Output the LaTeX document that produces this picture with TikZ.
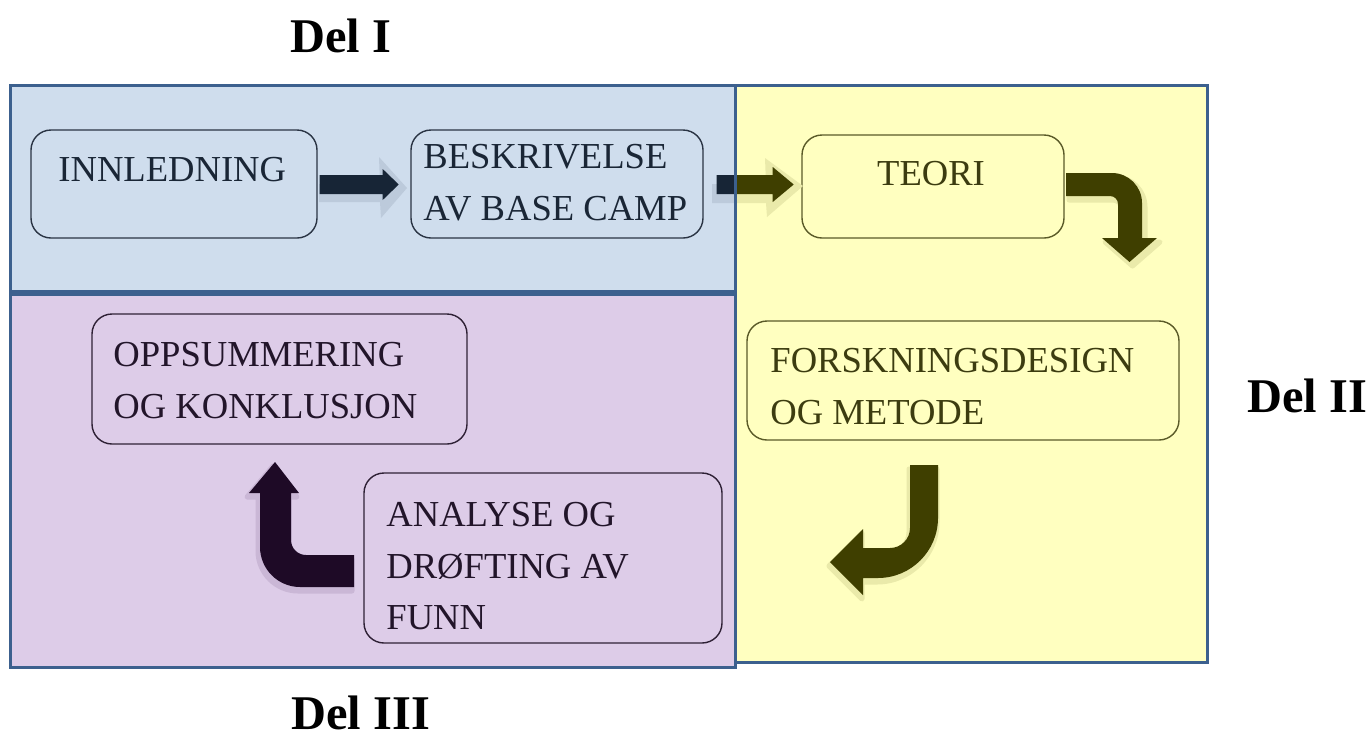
\documentclass[tikz,border=0pt]{standalone}
\usepackage{fontspec}
\setmainfont{Liberation Serif}
\usetikzlibrary{fit,calc}
\definecolor{blufill}{RGB}{207,221,237}
\definecolor{purfill}{RGB}{221,204,232}
\definecolor{yelfill}{RGB}{255,255,192}
\definecolor{framecol}{RGB}{60,96,142}
\definecolor{bluarrow}{RGB}{23,37,54}
\definecolor{blushadow}{RGB}{188,202,219}
\definecolor{olvarrow}{RGB}{63,63,0}
\definecolor{olvshadow}{RGB}{234,234,170}
\definecolor{purarrow}{RGB}{30,10,38}
\definecolor{purshadow}{RGB}{202,183,214}
\definecolor{blutext}{RGB}{26,38,54}
\definecolor{yeltext}{RGB}{60,60,16}
\definecolor{purtext}{RGB}{34,21,42}
\definecolor{bluedge}{RGB}{42,52,68}
\definecolor{yeledge}{RGB}{90,90,40}
\definecolor{puredge}{RGB}{46,32,53}
\begin{document}
\begin{tikzpicture}[x=0.5pt,y=-0.5pt,
  stepbox/.style={draw, rounded corners=10pt, line width=0.7pt, inner sep=0pt},
  boxtext/.style={inner sep=0pt, align=left, font=\fontsize{18.3}{25.7}\selectfont},
  partlabel/.style={inner sep=0pt, anchor=base west, font=\fontsize{24.2}{28}\selectfont\bfseries},
  frame/.style={draw=framecol, line width=1.5pt},
  halo/.style={line width=2.5pt, line join=round},
]
\useasboundingbox (0,0) rectangle (1370,740);

% region fills
\fill[yelfill] (735,85) rectangle (1207,662);
\fill[blufill] (10,85) rectangle (735,293);
\fill[purfill] (10,293) rectangle (735,667);

% boxes
\node[stepbox, draw=bluedge, fit={(31,130) (317,238)}] (innl) {};
\node[stepbox, draw=bluedge, fit={(411,130) (703,238)}] (besk) {};
\node[stepbox, draw=yeledge, fit={(802,135) (1064,238)}] (teori) {};
\node[stepbox, draw=yeledge, fit={(747,321) (1179,440)}] (forsk) {};
\node[stepbox, draw=puredge, fit={(92,314) (467,444)}] (opps) {};
\node[stepbox, draw=puredge, fit={(364,473) (722,643)}] (anal) {};

% shadows of straight arrows
\fill[blushadow] (319,184) -- (380,184) -- (379,157) -- (407,188) -- (381,218) -- (380,202) -- (319,202) -- cycle;
\begin{scope}
  \clip (0,100) rectangle (735,280);
  \fill[blushadow] (712,184) -- (766,184) -- (765,158) -- (803,186) -- (767,217) -- (766,203) -- (712,203) -- cycle;
\end{scope}
\begin{scope}
  \clip (735,100) rectangle (1200,280);
  \fill[olvshadow] (712,184) -- (766,184) -- (765,158) -- (803,186) -- (767,217) -- (766,203) -- (712,203) -- cycle;
\end{scope}

% arrow 1: innl -> besk
\fill[bluarrow] ($(innl.east)+(2,-9)$) -- ++(63,0) -- ++(0,-6) -- ++(16,15.5) -- ++(-16,15.5) -- ++(0,-6) -- ++(-63,0) -- cycle;

% arrow 2: besk -> teori
\begin{scope}
  \clip (0,100) rectangle (735,280);
  \fill[bluarrow] ($(besk.east)+(13,-9)$) -- ++(56,0) -- ++(0,-8) -- ++(21,17.5) -- ++(-21,17.5) -- ++(0,-8) -- ++(-56,0) -- cycle;
\end{scope}
\begin{scope}
  \clip (735,100) rectangle (1200,280);
  \fill[olvarrow] ($(besk.east)+(13,-9)$) -- ++(56,0) -- ++(0,-8) -- ++(21,17.5) -- ++(-21,17.5) -- ++(0,-8) -- ++(-56,0) -- cycle;
\end{scope}

% arrow 3: teori -> forsk
\begin{scope}[shift={(3,4)}]
\filldraw[olvshadow, halo] (1066,173) -- (1112,173) .. controls (1128.5,173) and (1142,186.5) .. (1142,203) -- (1142,238) -- (1157,238) -- (1129.5,262) -- (1102,238) -- (1118,238) -- (1118,204) .. controls (1118,199.6) and (1114.4,196) .. (1110,196) -- (1066,196) -- cycle;
\end{scope}
\fill[olvarrow] (1066,173) -- (1112,173) .. controls (1128.5,173) and (1142,186.5) .. (1142,203) -- (1142,238) -- (1157,238) -- (1129.5,262) -- (1102,238) -- (1118,238) -- (1118,204) .. controls (1118,199.6) and (1114.4,196) .. (1110,196) -- (1066,196) -- cycle;

% arrow 4: forsk -> anal
\begin{scope}[shift={(-1,4)}]
\filldraw[olvshadow, halo] (910,465) -- (938,465) -- (938,518) .. controls (938,551) and (911,578) .. (878,578) -- (863,578) -- (863,595) -- (830,562) -- (863,529) -- (863,548) -- (890,548) .. controls (901,548) and (910,539) .. (910,528) -- cycle;
\end{scope}
\fill[olvarrow] (910,465) -- (938,465) -- (938,518) .. controls (938,551) and (911,578) .. (878,578) -- (863,578) -- (863,595) -- (830,562) -- (863,529) -- (863,548) -- (890,548) .. controls (901,548) and (910,539) .. (910,528) -- cycle;

% arrow 5: anal -> opps
\begin{scope}[shift={(-2,4)}]
\filldraw[purshadow, halo] (354,555) -- (306,555) .. controls (297.7,555) and (291,548.3) .. (291,540) -- (291,493) -- (299,493) -- (275,462) -- (249,493) -- (260,493) -- (260,547) .. controls (260,569) and (278,587) .. (300,587) -- (354,587) -- cycle;
\end{scope}
\fill[purarrow] (354,555) -- (306,555) .. controls (297.7,555) and (291,548.3) .. (291,540) -- (291,493) -- (299,493) -- (275,462) -- (249,493) -- (260,493) -- (260,547) .. controls (260,569) and (278,587) .. (300,587) -- (354,587) -- cycle;

% region borders
\draw[frame] (735,85) rectangle (1207,662);
\draw[frame] (10,85) rectangle (735,293);
\draw[frame] (10,293) rectangle (735,667);
\draw[frame, line width=2.8pt] (10,293) -- (735,293);

% box texts
\node[boxtext, text=blutext, anchor=base west] (innlT) at (58,181) {INNLEDNING};
\node[boxtext, text=blutext, anchor=north west] (beskT) at (423,144) {BESKRIVELSE\\AV BASE CAMP};
\node[boxtext, text=yeltext, anchor=base] (teoriT) at (931,185) {TEORI};
\node[boxtext, text=yeltext, anchor=north west] (forskT) at (770,348) {FORSKNINGSDESIGN\\OG METODE};
\node[boxtext, text=purtext, anchor=north west] (oppsT) at (113,342) {OPPSUMMERING\\OG KONKLUSJON};
\node[boxtext, text=purtext, anchor=north west] (analT) at (386,502) {ANALYSE OG\\DRØFTING AV\\FUNN};

% part labels
\node[partlabel] (del1) at (290,52) {Del I};
\node[partlabel] (del2) at (1247,412) {Del II};
\node[partlabel] (del3) at (291,729) {Del III};
\end{tikzpicture}
\end{document}
